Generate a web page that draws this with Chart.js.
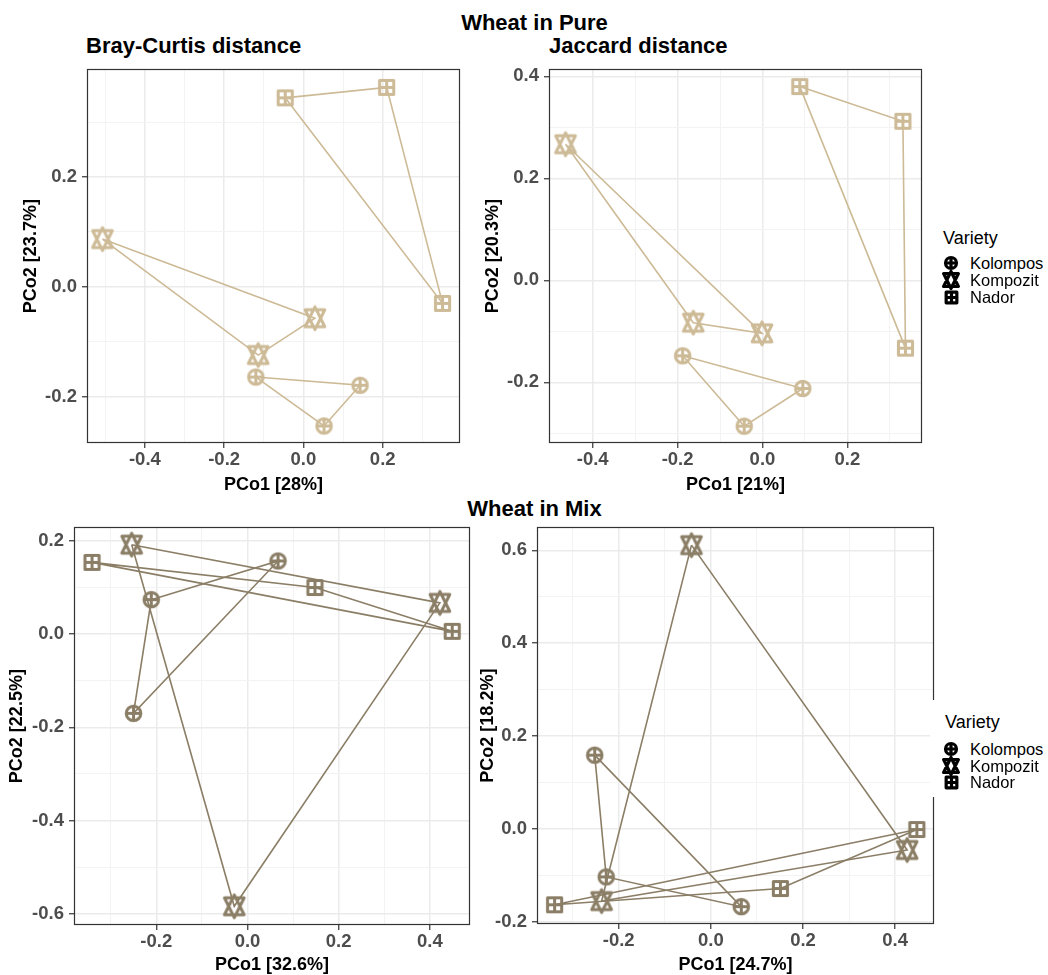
<!DOCTYPE html>
<html>
<head>
<meta charset="utf-8">
<script src="https://cdn.jsdelivr.net/npm/chart.js@4.4.1/dist/chart.umd.min.js"></script>
<style>
  html, body { margin: 0; padding: 0; background: #ffffff; }
  body { position: relative; width: 1048px; height: 975px; overflow: hidden;
         font-family: "Liberation Sans", Arial, sans-serif; color: #000; }
  .txt { position: absolute; white-space: nowrap; line-height: 1; }
  .bold { font-weight: bold; }
  canvas { position: absolute; }
  .legend { position: absolute; background: #ffffff; }
</style>
</head>
<body>

<div class="txt bold" style="left:0;width:1069px;text-align:center;top:12px;font-size:22px">Wheat in Pure</div>
<div class="txt bold" style="left:86px;top:35px;font-size:22px">Bray-Curtis distance</div>
<div class="txt bold" style="left:549px;top:35px;font-size:22px">Jaccard distance</div>
<div class="txt bold" style="left:0;width:1069px;text-align:center;top:498px;font-size:22px">Wheat in Mix</div>

<script>
// ---- sample layout shared by every ordination: three samples per variety ----
const varieties = ['Kolompos', 'Kompozit', 'Nador'];
const sampleVariety = ['Kolompos', 'Kolompos', 'Kolompos',
                       'Kompozit', 'Kompozit', 'Kompozit',
                       'Nador', 'Nador', 'Nador'];

// ---- Wheat in Pure, Bray-Curtis ----
const pureBrayPC1 = [-0.120, 0.143, 0.052, -0.507, 0.029, -0.114, -0.046, 0.210, 0.351];
const pureBrayPC2 = [-0.164, -0.179, -0.253, 0.087, -0.057, -0.124, 0.344, 0.363, -0.030];
const pureBrayTitles = ['PCo1 [28%]', 'PCo2 [23.7%]'];
const pureBrayXTicks = [-0.4, -0.2, 0.0, 0.2];
const pureBrayYTicks = [-0.2, 0.0, 0.2];

// ---- Wheat in Pure, Jaccard ----
const pureJaccPC1 = [-0.188, 0.095, -0.043, -0.464, -0.163, -0.001, 0.088, 0.331, 0.337];
const pureJaccPC2 = [-0.148, -0.212, -0.286, 0.267, -0.083, -0.104, 0.380, 0.312, -0.133];
const pureJaccTitles = ['PCo1 [21%]', 'PCo2 [20.3%]'];
const pureJaccXTicks = [-0.4, -0.2, 0.0, 0.2];
const pureJaccYTicks = [-0.2, 0.0, 0.2, 0.4];

// ---- Wheat in Mix, Bray-Curtis ----
const mixBrayPC1 = [-0.211, 0.067, -0.250, -0.254, 0.422, -0.029, -0.341, 0.148, 0.449];
const mixBrayPC2 = [0.074, 0.157, -0.170, 0.192, 0.067, -0.584, 0.154, 0.100, 0.006];
const mixBrayTitles = ['PCo1 [32.6%]', 'PCo2 [22.5%]'];
const mixBrayXTicks = [-0.2, 0.0, 0.2, 0.4];
const mixBrayYTicks = [-0.6, -0.4, -0.2, 0.0, 0.2];

// ---- Wheat in Mix, Jaccard ----
const mixJaccPC1 = [-0.252, -0.227, 0.066, -0.042, 0.426, -0.237, 0.447, 0.151, -0.339];
const mixJaccPC2 = [0.159, -0.103, -0.167, 0.611, -0.045, -0.155, -0.001, -0.128, -0.163];
const mixJaccTitles = ['PCo1 [24.7%]', 'PCo2 [18.2%]'];
const mixJaccXTicks = [-0.2, 0.0, 0.2, 0.4];
const mixJaccYTicks = [-0.2, 0.0, 0.2, 0.4, 0.6];

const legendTitle = 'Variety';

// ---- styling ----
const PURE_COLOUR = '#CDBA96';   // wheat3
const MIX_COLOUR = '#8B7E66';    // wheat4
const FONT = '"Liberation Sans", Arial, sans-serif';
const GRID_MAJOR = '#EBEBEB';
const GRID_MINOR = '#F3F3F3';
const FRAME = '#333333';

// Draws one of the three open plotting symbols on its own small canvas
function makeGlyph(variety, colour, u, lw) {
  let hw, hh;
  if (variety === 'Kompozit') { hw = 1.3468 * u; hh = 1.5551 * u; }
  else if (variety === 'Nador') { hw = hh = 0.97 * u; }
  else { hw = hh = u; }
  const w = Math.ceil(2 * hw + lw + 3);
  const h = Math.ceil(2 * hh + lw + 3);
  const c = document.createElement('canvas');
  c.width = w; c.height = h;
  const g = c.getContext('2d');
  g.strokeStyle = colour;
  g.lineWidth = lw;
  g.lineJoin = 'round';
  g.lineCap = 'butt';
  const cx = w / 2, cy = h / 2;
  g.beginPath();
  if (variety === 'Kolompos') {
    g.arc(cx, cy, u, 0, Math.PI * 2);
    g.moveTo(cx - u, cy); g.lineTo(cx + u, cy);
    g.moveTo(cx, cy - u); g.lineTo(cx, cy + u);
  } else if (variety === 'Nador') {
    g.rect(cx - hw, cy - hw, 2 * hw, 2 * hw);
    g.moveTo(cx - hw, cy); g.lineTo(cx + hw, cy);
    g.moveTo(cx, cy - hw); g.lineTo(cx, cy + hw);
  } else {
    const r = 1.5551 * u, yc = 1.1663 * u, xc = 1.3468 * u;
    g.moveTo(cx, cy - r); g.lineTo(cx + xc, cy + yc); g.lineTo(cx - xc, cy + yc); g.closePath();
    g.moveTo(cx, cy + r); g.lineTo(cx + xc, cy - yc); g.lineTo(cx - xc, cy - yc); g.closePath();
  }
  g.stroke();
  return c;
}

// Full panel border drawn over the data, like a boxed panel
const panelFrame = {
  id: 'panelFrame',
  afterDraw(chart) {
    const a = chart.chartArea, ctx = chart.ctx;
    ctx.save();
    ctx.strokeStyle = FRAME;
    ctx.lineWidth = 1.2;
    ctx.strokeRect(Math.round(a.left) + 0.5, Math.round(a.top) + 0.5,
                   Math.round(a.right - a.left) - 1, Math.round(a.bottom - a.top) - 1);
    ctx.restore();
  }
};

const near = (a, b) => Math.abs(a - b) < 1e-9;

// Major breaks plus the half-way minor breaks that fall inside the limits
function withMinors(majors, min, max) {
  const step = majors[1] - majors[0];
  const all = majors.slice();
  for (let i = -1; i < majors.length; i++) {
    const m = (i < 0 ? majors[0] - step : majors[i]) + step / 2;
    if (m > min + 0.004 && m < max - 0.004) all.push(+m.toFixed(4));
  }
  return all.sort((a, b) => a - b);
}

function axis(opts) {
  const isMajor = v => opts.majors.some(m => near(m, v));
  const allTicks = withMinors(opts.majors, opts.min, opts.max);
  return {
    type: 'linear',
    position: opts.position,
    min: opts.min,
    max: opts.max,
    afterBuildTicks: s => { s.ticks = allTicks.map(v => ({ value: v })); },
    afterFit: s => { if (opts.position === 'left') s.width = opts.size; else s.height = opts.size; },
    ticks: {
      autoSkip: false,
      maxRotation: 0,
      padding: opts.tickPad,
      color: '#4D4D4D',
      font: { family: FONT, size: 18.5, weight: 'bold', lineHeight: 1 },
      callback: v => isMajor(v) ? (near(v, 0) ? '0.0' : v.toFixed(1)) : ''
    },
    grid: {
      drawOnChartArea: true,
      drawTicks: true,
      tickLength: 5,
      color: c => (c.tick && isMajor(c.tick.value)) ? GRID_MAJOR : GRID_MINOR,
      lineWidth: c => (c.tick && isMajor(c.tick.value)) ? 1.5 : 1,
      tickColor: c => (c.tick && isMajor(c.tick.value)) ? FRAME : 'rgba(0,0,0,0)',
      tickWidth: 1.2
    },
    border: { display: false },
    title: {
      display: true,
      text: opts.title,
      color: '#000',
      font: { family: FONT, size: 18, weight: 'bold', lineHeight: 1 },
      padding: opts.titlePad
    }
  };
}

function panel(p) {
  const canvas = document.createElement('canvas');
  canvas.width = p.w; canvas.height = p.h;
  canvas.style.left = p.left + 'px';
  canvas.style.top = p.top + 'px';
  canvas.style.width = p.w + 'px';
  canvas.style.height = p.h + 'px';
  document.body.appendChild(canvas);

  const glyphs = {};
  varieties.forEach(v => { glyphs[v] = makeGlyph(v, p.colour, 7.3, 3.0); });

  const datasets = [];
  varieties.forEach(v => {
    const pts = [];
    sampleVariety.forEach((sv, i) => { if (sv === v) pts.push({ x: p.pc1[i], y: p.pc2[i] }); });
    // outline of the variety: closed path through its samples
    datasets.push({
      label: v + ' outline',
      data: pts.concat([pts[0]]),
      showLine: true,
      borderColor: p.colour,
      borderWidth: 1.6,
      pointRadius: 0,
      fill: false,
      order: 2
    });
    datasets.push({
      label: v,
      data: pts,
      showLine: false,
      pointStyle: glyphs[v],
      pointRadius: 9,
      order: 1
    });
  });

  new Chart(canvas, {
    type: 'scatter',
    data: { datasets },
    options: {
      responsive: false,
      animation: false,
      events: [],
      clip: false,
      layout: { padding: { top: p.padTop, right: p.padRight, left: 0, bottom: 0 } },
      plugins: { legend: { display: false }, tooltip: { enabled: false } },
      scales: {
        x: axis({ position: 'bottom', min: p.xLim[0], max: p.xLim[1], majors: p.xTicks,
                  size: p.xH, tickPad: 3, title: p.titles[0], titlePad: { top: 0, bottom: p.xTitlePad } }),
        y: axis({ position: 'left', min: p.yLim[0], max: p.yLim[1], majors: p.yTicks,
                  size: p.yW, tickPad: 5, title: p.titles[1], titlePad: { top: p.yTitlePad, bottom: 0 } })
      }
    },
    plugins: [panelFrame]
  });
}

panel({ left: 0, top: 55, w: 472, h: 445, yW: 87, xH: 57, padTop: 14, padRight: 12,
        yTitlePad: 22, xTitlePad: 6, colour: PURE_COLOUR,
        pc1: pureBrayPC1, pc2: pureBrayPC2, titles: pureBrayTitles,
        xTicks: pureBrayXTicks, yTicks: pureBrayYTicks,
        xLim: [-0.546, 0.395], yLim: [-0.284, 0.396] });

panel({ left: 480, top: 55, w: 452, h: 445, yW: 69, xH: 57, padTop: 14, padRight: 8,
        yTitlePad: 4, xTitlePad: 6, colour: PURE_COLOUR,
        pc1: pureJaccPC1, pc2: pureJaccPC2, titles: pureJaccTitles,
        xTicks: pureJaccXTicks, yTicks: pureJaccYTicks,
        xLim: [-0.503, 0.376], yLim: [-0.319, 0.414] });

panel({ left: 0, top: 513, w: 480, h: 462, yW: 74, xH: 50, padTop: 14, padRight: 8,
        yTitlePad: 8, xTitlePad: 1, colour: MIX_COLOUR,
        pc1: mixBrayPC1, pc2: mixBrayPC2, titles: mixBrayTitles,
        xTicks: mixBrayXTicks, yTicks: mixBrayYTicks,
        xLim: [-0.3805, 0.488], yLim: [-0.6242, 0.2294] });

panel({ left: 476, top: 513, w: 468, h: 462, yW: 61, xH: 51, padTop: 14, padRight: 8,
        yTitlePad: 3, xTitlePad: 1, colour: MIX_COLOUR,
        pc1: mixJaccPC1, pc2: mixJaccPC2, titles: mixJaccTitles,
        xTicks: mixJaccXTicks, yTicks: mixJaccYTicks,
        xLim: [-0.3772, 0.4842], yLim: [-0.2043, 0.6495] });

// Shape legend for the variety key, one per row of panels
function legend(box, titleLeft, titleY, itemYs) {
  const bg = document.createElement('div');
  bg.className = 'legend';
  bg.style.left = box[0] + 'px'; bg.style.top = box[1] + 'px';
  bg.style.width = box[2] + 'px'; bg.style.height = box[3] + 'px';
  document.body.appendChild(bg);

  const t = document.createElement('div');
  t.className = 'txt';
  t.style.left = titleLeft + 'px';
  t.style.top = (titleY - 9) + 'px';
  t.style.fontSize = '18px';
  t.textContent = legendTitle;
  document.body.appendChild(t);

  varieties.forEach((v, i) => {
    const g = makeGlyph(v, '#000000', 5.5, 3.2);
    g.style.left = Math.round(951 - g.width / 2) + 'px';
    g.style.top = Math.round(itemYs[i] - g.height / 2) + 'px';
    document.body.appendChild(g);
    const l = document.createElement('div');
    l.className = 'txt';
    l.style.left = '970px';
    l.style.top = (itemYs[i] - 8.5) + 'px';
    l.style.fontSize = '16.5px';
    l.textContent = v;
    document.body.appendChild(l);
  });
}

legend([934, 205, 114, 105], 943, 238, [263, 280, 297]);
legend([930, 700, 118, 97], 945, 722, [749, 766, 782]);
</script>
</body>
</html>
